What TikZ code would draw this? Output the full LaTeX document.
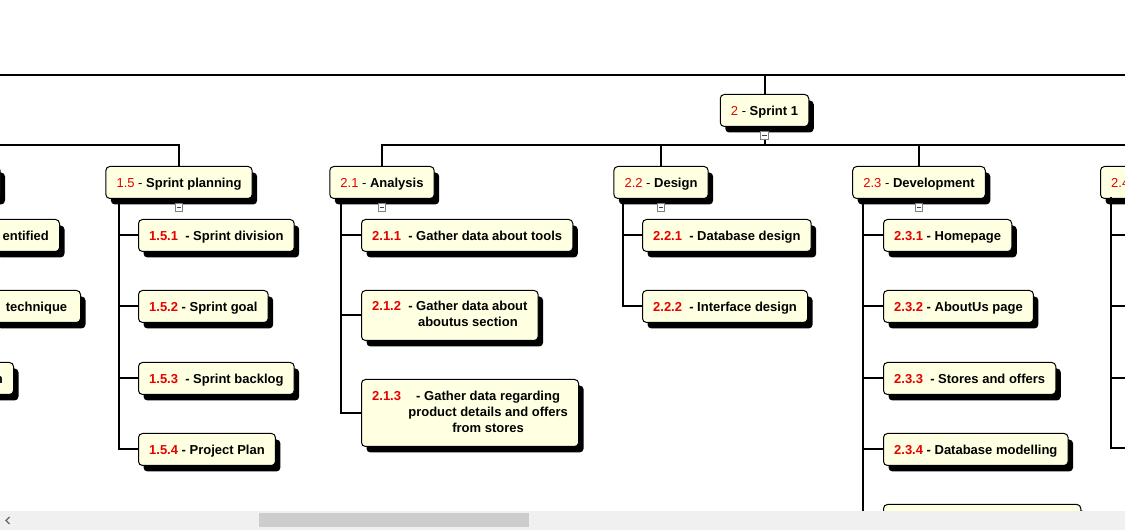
\documentclass[tikz,border=0pt]{standalone}
\usepackage{fontspec}
\setmainfont{Liberation Sans}
\usetikzlibrary{shadows,positioning}

\definecolor{wbsfill}{RGB}{255,255,225}
\definecolor{wbsred}{RGB}{230,0,0}
\definecolor{sbar}{RGB}{240,240,240}
\definecolor{sthumb}{RGB}{205,205,205}

\newcommand{\wbsno}[1]{\textcolor{wbsred}{#1}}

\begin{document}
\begin{tikzpicture}[x=0.75pt, y=-0.75pt,
    wbs/.style={draw=black, line width=0.75pt, fill=wbsfill, rounded corners=3pt,
        drop shadow={shadow xshift=3.75pt, shadow yshift=-4.5pt, fill=black, opacity=1},
        font=\fontsize{9.75}{12}\selectfont\bfseries, inner xsep=8pt, inner ysep=0pt,
        minimum height=24pt},
    task/.style={wbs, text height=7.5pt, text depth=0.3pt},
    wire/.style={line width=1.5pt},
    foldbox/.style={draw=gray, fill=white, line width=0.6pt, minimum size=5.8pt, inner sep=0pt,
        path picture={\draw[black!75, line width=0.7pt]
            ([xshift=-1.7pt]path picture bounding box.center) --
            ([xshift=1.7pt]path picture bounding box.center);}}]

    \useasboundingbox (0,0) rectangle (1125,530);
    \fill[white] (0,0) rectangle (1125,530);
    \clip (0,0) rectangle (1125,530);

    % bars
    \coordinate (topL) at (0,75);
    \coordinate (topR) at (1125,75);
    \coordinate (barA) at (0,145);
    \coordinate (barB) at (1125,145);

    % level 1
    \node[task, anchor=north] (s1) at (764.5,94) {{\mdseries\wbsno{2} -} Sprint 1};

    % level 2
    \node[task, anchor=north east, minimum width=40] (p14) at (0.5,166) {};
    \node[task, anchor=north] (p15) at (179,166) {{\mdseries\wbsno{1.5} -} Sprint planning};
    \node[task, anchor=north] (p21) at (382,166) {{\mdseries\wbsno{2.1} -} Analysis};
    \node[task, anchor=north] (p22) at (661,166) {{\mdseries\wbsno{2.2} -} Design};
    \node[task, anchor=north] (p23) at (919,166) {{\mdseries\wbsno{2.3} -} Development};
    \node[task, anchor=north west, text width=50pt, align=left] (p24) at (1100,166) {{\mdseries\wbsno{2.4}}};

    % 1.4 (cut off)
    \node[task, anchor=north east] (p14a) at (60,219) {entified};
    \node[task, anchor=north east, inner xsep=10pt] (p14b) at (81,290) {technique};
    \node[task, anchor=north east] (p14c) at (14,362) {n};

    % 1.5
    \node[task, anchor=north west] (p151) at (138,219) {\wbsno{1.5.1}\ \ - Sprint division};
    \node[task, anchor=north west] (p152) at (138,290) {\wbsno{1.5.2} - Sprint goal};
    \node[task, anchor=north west] (p153) at (138,362) {\wbsno{1.5.3}\ \ - Sprint backlog};
    \node[task, anchor=north west] (p154) at (138,433) {\wbsno{1.5.4} - Project Plan};

    % 2.1
    \node[task, anchor=north west] (p211) at (361,219) {\wbsno{2.1.1}\ \ - Gather data about tools};
    \node[wbs, anchor=north west, minimum height=37.5pt] (p212) at (361,290)
        {\wbsno{2.1.2}\ \ \begin{tabular}[t]{@{}c@{}}- Gather data about\\aboutus section\end{tabular}};
    \node[wbs, anchor=north west, minimum height=50.25pt] (p213) at (361,379)
        {\wbsno{2.1.3}\ \ \begin{tabular}[t]{@{}c@{}}- Gather data regarding\\product details and offers\\from stores\end{tabular}};

    % 2.2
    \node[task, anchor=north west] (p221) at (642,219) {\wbsno{2.2.1}\ \ - Database design};
    \node[task, anchor=north west] (p222) at (642,290) {\wbsno{2.2.2}\ \ - Interface design};

    % 2.3
    \node[task, anchor=north west] (p231) at (883,219) {\wbsno{2.3.1} - Homepage};
    \node[task, anchor=north west] (p232) at (883,290) {\wbsno{2.3.2} - AboutUs page};
    \node[task, anchor=north west] (p233) at (883,362) {\wbsno{2.3.3}\ \ - Stores and offers};
    \node[task, anchor=north west] (p234) at (883,433) {\wbsno{2.3.4} - Database modelling};
    \node[task, anchor=north west, minimum width=148] (p235) at (883,504) {};

    % connectors
    \draw[wire] (topL) -- (topR);
    \draw[wire] (s1.north) -- (s1.north |- topL);
    \draw[wire] (s1.south) -- (s1.south |- barB);
    \draw[wire] (barA) -| (p15.north);
    \draw[wire] (p21.north) |- (barB);
    \draw[wire] (p22.north) -- (p22.north |- barB);
    \draw[wire] (p23.north) -- (p23.north |- barB);

    % 1.5 spine
    \coordinate (sp15) at (119,198);
    \foreach \c in {p151,p152,p153,p154}
        \draw[wire] (sp15) |- (\c.west);

    % 2.1 spine
    \coordinate (sp21) at (341,198);
    \foreach \c in {p211,p212,p213}
        \draw[wire] (sp21) |- (\c.west);

    % 2.2 spine
    \coordinate (sp22) at (623,198);
    \foreach \c in {p221,p222}
        \draw[wire] (sp22) |- (\c.west);

    % 2.3 spine
    \coordinate (sp23) at (863,198);
    \foreach \c in {p231,p232,p233,p234,p235}
        \draw[wire] (sp23) |- (\c.west);

    % 2.4 spine, children off to the right
    \coordinate (sp24) at (1111,197);
    \coordinate (c241) at (1125,235);
    \coordinate (c242) at (1125,306);
    \coordinate (c243) at (1125,378);
    \coordinate (c244) at (1125,448);
    \foreach \c in {c241,c242,c243,c244}
        \draw[wire] (sp24) |- (\c);

    % fold boxes
    \node[foldbox, below=3pt of s1] (f1) {};
    \node[foldbox, below=3pt of p15] (f15) {};
    \node[foldbox, below=3pt of p21] (f21) {};
    \node[foldbox, below=3pt of p22] (f22) {};
    \node[foldbox, below=3pt of p23] (f23) {};

    % scroll bar
    \fill[sbar] (0,511) rectangle (1125,530);
    \fill[sthumb] (259,513) rectangle (529,527);
    \draw[black!60, line width=0.8pt] (9.5,517) -- (6,520.5) -- (9.5,524);
\end{tikzpicture}
\end{document}
